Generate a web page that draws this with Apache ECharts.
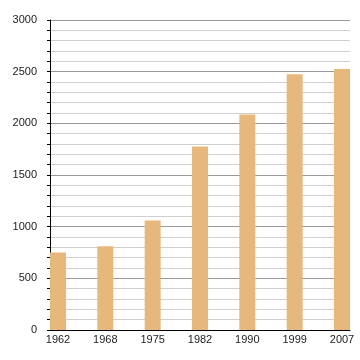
<!DOCTYPE html>
<html>
<head>
<meta charset="utf-8">
<script src="https://cdn.jsdelivr.net/npm/echarts@6/dist/echarts.min.js"></script>
<style>html,body{margin:0;padding:0;background:#fff}#c{width:360px;height:360px}</style>
</head>
<body>
<div id="c"></div>
<script>
var years = ['1962', '1968', '1975', '1982', '1990', '1999', '2007'];
var population = [750, 810, 1060, 1775, 2085, 2475, 2525];
var yMin = 0, yMax = 3000, yStep = 500;

var chart = echarts.init(document.getElementById('c'), null, {renderer: 'canvas'});
chart.setOption({
  animation: false,
  backgroundColor: '#fff',
  textStyle: {fontFamily: 'Liberation Sans, Arial, sans-serif'},
  grid: [
    {left: 50, right: 10, top: 20, bottom: 30},
    {left: 58, right: 18, top: 20, bottom: 30}
  ],
  xAxis: [
    {gridIndex: 0, type: 'value', min: 0, max: 1,
     axisLine: {show: true, lineStyle: {color: '#000', width: 1}},
     axisTick: {show: false}, axisLabel: {show: false}, splitLine: {show: false}},
    {gridIndex: 1, type: 'category', data: years, boundaryGap: false,
     axisLine: {show: false}, axisTick: {show: false}, splitLine: {show: false},
     axisLabel: {color: '#222', fontSize: 11, margin: 4, interval: 0}}
  ],
  yAxis: [
    {gridIndex: 0, type: 'value', min: yMin, max: yMax, interval: yStep,
     axisLine: {show: true, lineStyle: {color: '#000', width: 1}},
     axisTick: {show: true, length: 3, lineStyle: {color: '#000'}},
     minorTick: {show: true, splitNumber: 5, length: 3, lineStyle: {color: '#000'}},
     splitLine: {show: true, lineStyle: {color: '#999', width: 1}},
     minorSplitLine: {show: true, lineStyle: {color: '#cfcfcf', width: 1}},
     axisLabel: {color: '#222', fontSize: 11, margin: 13,
                 formatter: function (v) { return String(v); }}},
    {gridIndex: 1, type: 'value', min: yMin, max: yMax, show: false,
     splitLine: {show: false}}
  ],
  series: [{
    type: 'bar', xAxisIndex: 1, yAxisIndex: 1, data: population,
    barWidth: 16, clip: false,
    itemStyle: {color: '#e6b87d'}
  }]
});
</script>
</body>
</html>
